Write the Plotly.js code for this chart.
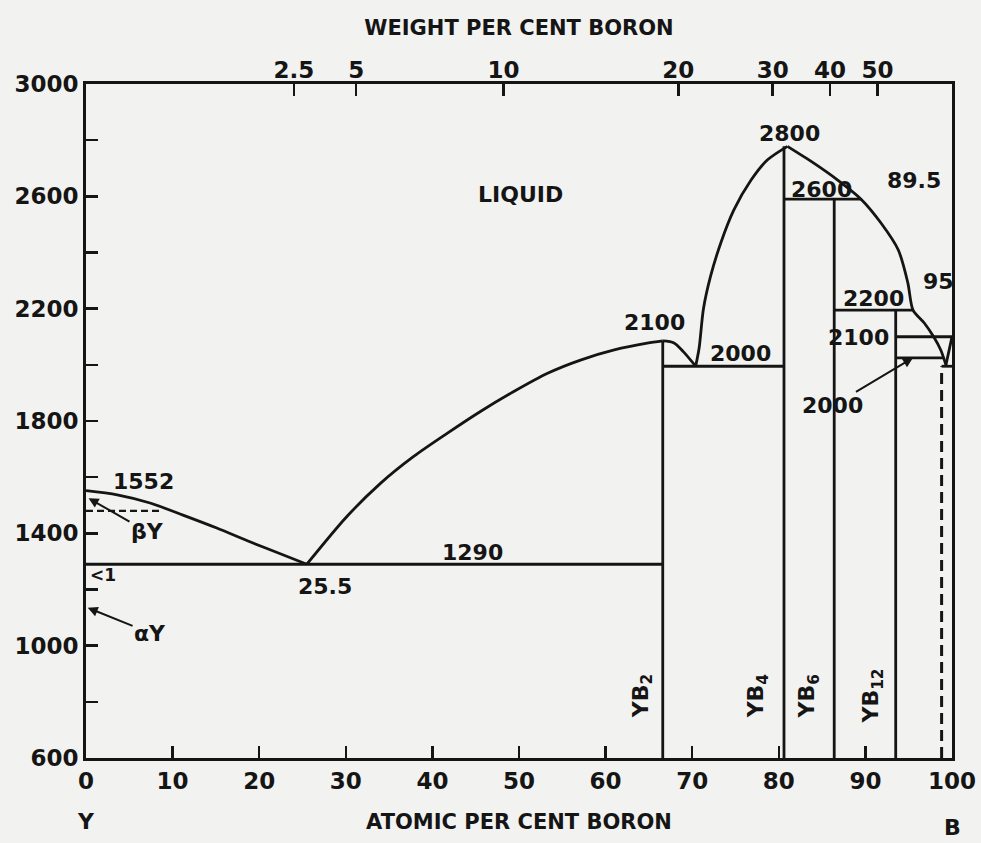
<!DOCTYPE html>
<html>
<head>
<meta charset="utf-8">
<script src="https://cdn.plot.ly/plotly-3.0.1.min.js"></script>
<style>
  html, body { margin: 0; padding: 0; background: #f2f2f0; }
  #chart { width: 981px; height: 843px; }
</style>
</head>
<body>
<div id="chart"></div>
<script>
// ---- Data (atomic % B, temperature) ----
// Y-rich liquidus: Y melting point down to the 25.5 % eutectic
const liqY_x = [0, 3.6, 7.4, 11.2, 15.1, 19.0, 22.8, 25.5];
const liqY_T = [1552, 1537, 1508, 1465, 1419, 1369, 1323, 1290];
// YB2 liquidus: eutectic up to YB2 maximum
const liqB2_x = [25.5, 30.1, 34.0, 37.8, 41.7, 45.5, 49.4, 53.3, 57.1, 61.0, 64.8, 66.6];
const liqB2_T = [1290, 1459, 1578, 1673, 1756, 1833, 1905, 1970, 2017, 2053, 2077, 2085];
// YB2 -> YB2/YB4 eutectic
const liqB2r_x = [66.6, 67.9, 69.0, 70.4];
const liqB2r_T = [2085, 2078, 2046, 1995];
// YB4 liquidus up to the 2800 maximum
const liqB4_x = [70.4, 70.8, 71.3, 72.1, 73.3, 74.8, 76.8, 78.7, 81.0];
const liqB4_T = [1995, 2060, 2200, 2313, 2434, 2551, 2658, 2730, 2778];
// B-rich liquidus from the maximum down to the B-side eutectic
const liqR_x = [81.0, 84.0, 86.8, 89.5, 91.8, 93.8, 94.9, 95.5, 96.8, 97.9, 98.7, 99.3];
const liqR_T = [2778, 2719, 2658, 2590, 2505, 2409, 2292, 2195, 2149, 2099, 2053, 2000];
// boron liquidus
const liqB_x = [100, 99.3];
const liqB_T = [2100, 2000];

// invariant (horizontal) lines: [x start, x end, T]
const iso1290 = [0, 66.6, 1290];
const iso2000 = [66.6, 80.6, 1995];
const iso2600 = [80.6, 89.5, 2590];
const iso2200 = [86.4, 95.5, 2195];
const iso2100 = [93.5, 100, 2100];
const iso2025 = [93.5, 99.0, 2025];
const isoEut  = [98.8, 100, 1995];
const isoBeta = [0, 8.5, 1480];   // alpha/beta Y (dashed)

// compounds: [composition, top temperature]
const compounds = [
  {name: 'YB<sub>2</sub>',  x: 66.6, top: 2085},
  {name: 'YB<sub>4</sub>',  x: 80.6, top: 2778},
  {name: 'YB<sub>6</sub>',  x: 86.4, top: 2590},
  {name: 'YB<sub>12</sub>', x: 93.5, top: 2195}
];
const dashedX = 98.8, dashedTop = 1995;

// axes
const atomicTicks = [0, 10, 20, 30, 40, 50, 60, 70, 80, 90, 100];
const weightTickPos = [24.0, 31.2, 48.2, 68.4, 79.3, 85.9, 91.4];
const weightTickText = ['2.5', '5', '10', '20', '30', '40', '50'];
const tempTicks = [600, 1000, 1400, 1800, 2200, 2600, 3000];

// ---- Drawing ----
const INK = '#151515';
const FONT = 'DejaVu Sans, sans-serif';
const LW = 2.8;
const LAB = 22;

function curve(x, y, shape) {
  return {x: x, y: y, mode: 'lines', type: 'scatter', hoverinfo: 'skip',
          line: {color: INK, width: LW, shape: shape || 'spline', smoothing: 0.8},
          showlegend: false};
}
function iso(a, dash) {
  return {x: [a[0], a[1]], y: [a[2], a[2]], mode: 'lines', type: 'scatter', hoverinfo: 'skip',
          line: {color: INK, width: dash ? 2.2 : LW, dash: dash || 'solid'}, showlegend: false};
}

const traces = [
  curve(liqY_x, liqY_T), curve(liqB2_x, liqB2_T), curve(liqB2r_x, liqB2r_T),
  curve(liqB4_x, liqB4_T), curve(liqR_x, liqR_T), curve(liqB_x, liqB_T, 'linear'),
  iso(iso1290), iso(iso2000), iso(iso2600), iso(iso2200), iso(iso2100), iso(iso2025), iso(isoEut),
  iso(isoBeta, '7px,4px')
];
compounds.forEach(c => {
  traces.push({x: [c.x, c.x], y: [600, c.top], mode: 'lines', type: 'scatter', hoverinfo: 'skip',
               line: {color: INK, width: LW}, showlegend: false});
});
traces.push({x: [dashedX, dashedX], y: [600, dashedTop], mode: 'lines', type: 'scatter', hoverinfo: 'skip',
             line: {color: INK, width: 3, dash: '11px,6px'}, showlegend: false});
// carrier for the top (weight %) axis
traces.push({x: [0, 100], y: [600, 600], xaxis: 'x2', mode: 'markers', marker: {opacity: 0},
             hoverinfo: 'skip', showlegend: false});

const labFont = {family: FONT, size: LAB, color: INK, weight: 'bold'};
function lab(text, x, y, size) {
  return {text: text, x: x, y: y, xref: 'x', yref: 'y', showarrow: false,
          font: {family: FONT, size: size || LAB, color: INK, weight: 'bold'}};
}
const annotations = [
  lab('LIQUID', 50.2, 2605),
  lab('1552', 6.6, 1583),
  lab('&lt;1', 2.0, 1252, 17),
  lab('25.5', 27.6, 1209),
  lab('1290', 44.6, 1330),
  lab('2100', 65.6, 2149),
  lab('2000', 75.6, 2042),
  lab('2800', 81.2, 2822),
  lab('2600', 84.9, 2623),
  lab('89.5', 95.6, 2658),
  lab('95', 98.4, 2295),
  lab('2200', 90.9, 2238),
  lab('2100', 89.2, 2099),
  {text: '2000', x: 95.5, y: 2025, ax: 86.2, ay: 1854, axref: 'x', ayref: 'y', xref: 'x', yref: 'y',
   showarrow: true, arrowhead: 2, arrowsize: 1, arrowwidth: 2, arrowcolor: INK, font: labFont},
  {text: '&#946;Y', x: 0.3, y: 1525, ax: 7.1, ay: 1405, axref: 'x', ayref: 'y', xref: 'x', yref: 'y',
   showarrow: true, arrowhead: 2, arrowsize: 1, arrowwidth: 2, arrowcolor: INK, font: labFont},
  {text: '&#945;Y', x: 0.2, y: 1135, ax: 7.4, ay: 1045, axref: 'x', ayref: 'y', xref: 'x', yref: 'y',
   showarrow: true, arrowhead: 2, arrowsize: 1, arrowwidth: 2, arrowcolor: INK, font: labFont},
  {text: 'Y', x: 0, y: -0.072, xref: 'x', yref: 'paper', yanchor: 'top', showarrow: false, font: labFont},
  {text: 'B', x: 100, y: -0.082, xref: 'x', yref: 'paper', yanchor: 'top', showarrow: false, font: labFont}
];
const compLabelX = [64.2, 77.5, 83.4, 90.8];
compounds.forEach((c, i) => {
  annotations.push({text: c.name, x: compLabelX[i], y: 820, xref: 'x', yref: 'y', showarrow: false,
                    textangle: -90, font: labFont});
});

const tickFont = {family: FONT, size: 23, color: INK, weight: 'bold'};
const layout = {
  width: 981, height: 843,
  margin: {l: 86, r: 29, t: 84, b: 85},
  paper_bgcolor: '#f2f2f0', plot_bgcolor: '#f2f2f0',
  showlegend: false,
  xaxis: {
    range: [0, 100], tickvals: atomicTicks, ticks: 'inside', ticklen: 12, tickwidth: 2.5,
    tickcolor: INK, showline: true, linecolor: INK, linewidth: 3, mirror: true,
    showgrid: false, zeroline: false, tickfont: tickFont,
    title: {text: 'ATOMIC PER CENT BORON' + '\u00a0'.repeat(12), standoff: 22,
            font: {family: FONT, size: 21, color: INK, weight: 'bold'}}
  },
  xaxis2: {
    range: [0, 100], overlaying: 'x', side: 'top', tickvals: weightTickPos, ticktext: weightTickText,
    ticks: 'inside', ticklen: 12, tickwidth: 2.5, tickcolor: INK, showline: false,
    showgrid: false, zeroline: false, tickfont: tickFont,
    title: {text: 'WEIGHT PER CENT BORON', standoff: 16,
            font: {family: FONT, size: 21, color: INK, weight: 'bold'}}
  },
  yaxis: {
    range: [600, 3000], tickvals: tempTicks, ticks: 'inside', ticklen: 12, tickwidth: 2.5,
    tickcolor: INK, showline: true, linecolor: INK, linewidth: 3, mirror: true,
    showgrid: false, zeroline: false, tickfont: tickFont, ticklabelstandoff: 0,
    minor: {tickvals: [800, 1200, 1600, 2000, 2400, 2800], ticks: 'inside', ticklen: 12,
            tickwidth: 2.5, tickcolor: INK, showgrid: false}
  },
  annotations: annotations
};

Plotly.newPlot('chart', traces, layout, {displayModeBar: false, staticPlot: true});
</script>
</body>
</html>
